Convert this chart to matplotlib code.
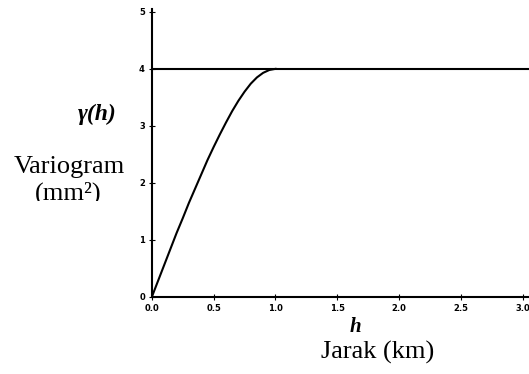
import matplotlib
matplotlib.use("Agg")
import matplotlib.pyplot as plt
from matplotlib.transforms import Bbox, TransformedBbox

# values (spherical model, sill 4, range ~1 km)
lag = [0.0, 0.05, 0.1, 0.15, 0.2, 0.25, 0.3, 0.35, 0.4, 0.45, 0.5,
       0.55, 0.6, 0.65, 0.7, 0.75, 0.8, 0.85, 0.9, 0.95, 1.0]
gamma = [0.0, 0.28, 0.56, 0.84, 1.12, 1.38, 1.65, 1.9, 2.15, 2.4, 2.63,
         2.85, 3.06, 3.26, 3.44, 3.6, 3.74, 3.85, 3.93, 3.98, 4.0]
sill_x = [0.0, 3.1]
sill_y = [4.0, 4.0]

xticks = [0.0, 0.5, 1.0, 1.5, 2.0, 2.5, 3.0]
xticklabels = ['0.0', '0.5', '1.0', '1.5', '2.0', '2.5', '3.0']
yticks = [0, 1, 2, 3, 4, 5]

fig = plt.figure(figsize=(5.29, 3.74), dpi=100)
ax = fig.add_axes([0.287, 0.206, 0.713, 0.77])

ax.plot(lag, gamma, color='black', lw=1.5)
ax.plot(sill_x, sill_y, color='black', lw=1.5)

ax.set_xlim(0, 3.05)
ax.set_ylim(0, 5.05)
ax.set_xticks(xticks)
ax.set_xticklabels(xticklabels)
ax.set_yticks(yticks)

for s in ['top', 'right']:
    ax.spines[s].set_visible(False)
for s in ['left', 'bottom']:
    ax.spines[s].set_linewidth(1.5)

ax.tick_params(direction='inout', length=4, width=0.8, labelsize=6, pad=3)
for lbl in ax.get_xticklabels() + ax.get_yticklabels():
    lbl.set_fontweight('bold')

serif = ['Liberation Serif', 'DejaVu Serif']
fig.text(97 / 529, 1 - 114 / 374, 'γ(h)', family=serif, fontsize=17,
         fontweight='bold', fontstyle='italic', ha='center', va='center')
fig.text(69 / 529, 1 - 167 / 374, 'Variogram', family=serif, fontsize=19,
         ha='center', va='center')
t = fig.text(68 / 529, 1 - 193 / 374, '(mm²)', family=serif, fontsize=19,
             ha='center', va='center')
t.set_clip_box(TransformedBbox(Bbox([[0, 1 - 201 / 374], [0.3, 1 - 178 / 374]]),
                               fig.transFigure))
t.set_clip_on(True)
fig.text(355 / 529, 1 - 327 / 374, 'h', family=serif, fontsize=15,
         fontweight='bold', fontstyle='italic', ha='center', va='center')
fig.text(378 / 529, 1 - 352 / 374, 'Jarak (km)', family=serif, fontsize=19,
         ha='center', va='center')

fig.savefig('out.png', dpi=100)
